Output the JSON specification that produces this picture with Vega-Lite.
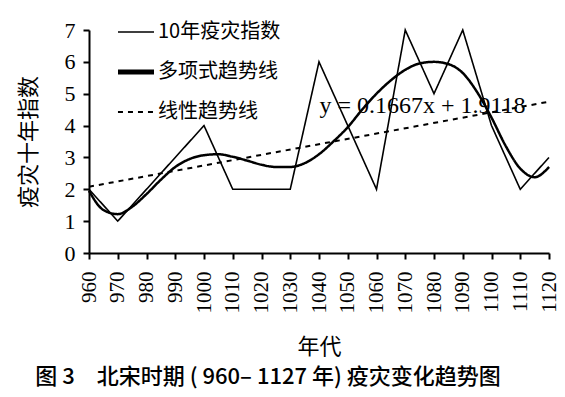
{
  "$schema": "https://vega.github.io/schema/vega-lite/v6.json",
  "width": 460,
  "height": 223,
  "autosize": {"type": "none"},
  "padding": {"left": 89, "top": 30, "right": 16, "bottom": 144},
  "background": "white",
  "title": {
    "text": "图 3　北宋时期  ( 960–  1127 年)  疫灾变化趋势图",
    "orient": "bottom",
    "anchor": "middle",
    "font": "Noto Sans CJK SC",
    "fontSize": 22,
    "fontWeight": 500,
    "color": "black",
    "offset": 10,
    "dx": -51
  },
  "config": {
    "view": {"stroke": null},
    "axis": {
      "domainColor": "black",
      "domainWidth": 2,
      "tickColor": "black",
      "tickWidth": 2,
      "tickSize": 6,
      "grid": false,
      "labelColor": "black",
      "titleColor": "black",
      "labelFont": "Liberation Serif",
      "labelFontSize": 21,
      "titleFont": "Noto Sans CJK SC",
      "titleFontSize": 21,
      "titleFontWeight": "normal"
    }
  },
  "datasets": {
    "pts": [
      {"year": 960, "value": 2, "series": "10年疫灾指数"},
      {"year": 970, "value": 1, "series": "10年疫灾指数"},
      {"year": 980, "value": 2, "series": "10年疫灾指数"},
      {"year": 990, "value": 3, "series": "10年疫灾指数"},
      {"year": 1000, "value": 4, "series": "10年疫灾指数"},
      {"year": 1010, "value": 2, "series": "10年疫灾指数"},
      {"year": 1020, "value": 2, "series": "10年疫灾指数"},
      {"year": 1030, "value": 2, "series": "10年疫灾指数"},
      {"year": 1040, "value": 6, "series": "10年疫灾指数"},
      {"year": 1050, "value": 4, "series": "10年疫灾指数"},
      {"year": 1060, "value": 2, "series": "10年疫灾指数"},
      {"year": 1070, "value": 7, "series": "10年疫灾指数"},
      {"year": 1080, "value": 5, "series": "10年疫灾指数"},
      {"year": 1090, "value": 7, "series": "10年疫灾指数"},
      {"year": 1100, "value": 4, "series": "10年疫灾指数"},
      {"year": 1110, "value": 2, "series": "10年疫灾指数"},
      {"year": 1120, "value": 3, "series": "10年疫灾指数"},
      {"year": 960, "value": 1.95, "series": "多项式趋势线"},
      {"year": 965, "value": 1.35, "series": "多项式趋势线"},
      {"year": 970, "value": 1.22, "series": "多项式趋势线"},
      {"year": 975, "value": 1.45, "series": "多项式趋势线"},
      {"year": 980, "value": 1.85, "series": "多项式趋势线"},
      {"year": 985, "value": 2.3, "series": "多项式趋势线"},
      {"year": 990, "value": 2.7, "series": "多项式趋势线"},
      {"year": 995, "value": 2.95, "series": "多项式趋势线"},
      {"year": 1000, "value": 3.07, "series": "多项式趋势线"},
      {"year": 1005, "value": 3.1, "series": "多项式趋势线"},
      {"year": 1010, "value": 3.02, "series": "多项式趋势线"},
      {"year": 1015, "value": 2.9, "series": "多项式趋势线"},
      {"year": 1020, "value": 2.77, "series": "多项式趋势线"},
      {"year": 1025, "value": 2.7, "series": "多项式趋势线"},
      {"year": 1030, "value": 2.7, "series": "多项式趋势线"},
      {"year": 1035, "value": 2.82, "series": "多项式趋势线"},
      {"year": 1040, "value": 3.1, "series": "多项式趋势线"},
      {"year": 1045, "value": 3.5, "series": "多项式趋势线"},
      {"year": 1050, "value": 3.95, "series": "多项式趋势线"},
      {"year": 1055, "value": 4.5, "series": "多项式趋势线"},
      {"year": 1060, "value": 5.0, "series": "多项式趋势线"},
      {"year": 1065, "value": 5.42, "series": "多项式趋势线"},
      {"year": 1070, "value": 5.75, "series": "多项式趋势线"},
      {"year": 1075, "value": 5.95, "series": "多项式趋势线"},
      {"year": 1080, "value": 6.0, "series": "多项式趋势线"},
      {"year": 1085, "value": 5.93, "series": "多项式趋势线"},
      {"year": 1090, "value": 5.65, "series": "多项式趋势线"},
      {"year": 1095, "value": 5.05, "series": "多项式趋势线"},
      {"year": 1100, "value": 4.25, "series": "多项式趋势线"},
      {"year": 1105, "value": 3.35, "series": "多项式趋势线"},
      {"year": 1110, "value": 2.65, "series": "多项式趋势线"},
      {"year": 1115, "value": 2.38, "series": "多项式趋势线"},
      {"year": 1120, "value": 2.7, "series": "多项式趋势线"},
      {"year": 960, "value": 2.08, "series": "线性趋势线"},
      {"year": 1120, "value": 4.75, "series": "线性趋势线"}
    ],
    "eq": [
      {"year": 1076, "value": 4.62, "label": "y = 0.1667x + 1.9118"}
    ]
  },
  "encoding": {
    "x": {
      "field": "year",
      "type": "quantitative",
      "scale": {"domain": [960, 1120], "nice": false, "zero": false},
      "axis": {
        "title": "年代",
        "values": [960, 970, 980, 990, 1000, 1010, 1020, 1030, 1040, 1050, 1060, 1070, 1080, 1090, 1100, 1110, 1120],
        "format": "d",
        "labelAngle": 270,
        "labelFont": "Liberation Serif",
        "labelFontSize": 21,
        "labelPadding": 12,
        "titlePadding": 23,
        "titleFontSize": 22,
        "labelOverlap": false,
        "labelFlush": false
      }
    },
    "y": {
      "field": "value",
      "type": "quantitative",
      "scale": {"domain": [0, 7], "nice": false},
      "axis": {
        "title": "疫灾十年指数",
        "values": [0, 1, 2, 3, 4, 5, 6, 7],
        "labelFont": "Liberation Serif",
        "labelFontSize": 22,
        "labelPadding": 8,
        "titlePadding": 24,
        "titleFontSize": 22,
        "labelFlush": false
      }
    }
  },
  "layer": [
    {
      "data": {"name": "pts"},
      "transform": [{"filter": "datum.series !== '多项式趋势线'"}],
      "mark": {"type": "line", "color": "black", "interpolate": "linear"},
      "encoding": {
        "detail": {"field": "series"},
        "strokeDash": {
          "field": "series",
          "type": "nominal",
          "scale": {"domain": ["10年疫灾指数", "多项式趋势线", "线性趋势线"], "range": [[1, 0], [1, 0], [5, 5]]},
          "legend": {
            "title": null,
            "orient": "none",
            "legendX": 37,
            "legendY": -8,
            "symbolType": "stroke",
            "symbolSize": 1300,
            "symbolStrokeColor": "black",
            "labelFont": "Noto Sans CJK SC",
            "labelFontSize": 20,
            "labelColor": "black",
            "labelOffset": 12,
            "rowPadding": 20,
            "encode": {
              "symbols": {
                "update": {
                  "strokeWidth": {"signal": "datum.value === '多项式趋势线' ? 5 : datum.value === '线性趋势线' ? 2 : 1.6"}
                }
              }
            }
          }
        },
        "strokeWidth": {
          "field": "series",
          "type": "nominal",
          "scale": {"type": "ordinal", "domain": ["10年疫灾指数", "多项式趋势线", "线性趋势线"], "range": [1.6, 4, 2]},
          "legend": null
        }
      }
    },
    {
      "data": {"name": "pts"},
      "transform": [{"filter": "datum.series === '多项式趋势线'"}],
      "mark": {"type": "line", "color": "black", "interpolate": "monotone"},
      "encoding": {
        "strokeDash": {"field": "series", "type": "nominal"},
        "strokeWidth": {"field": "series", "type": "nominal"}
      }
    },
    {
      "data": {"name": "eq"},
      "mark": {"type": "text", "font": "Liberation Serif", "fontSize": 24, "color": "black", "align": "center", "baseline": "middle"},
      "encoding": {
        "text": {"field": "label"}
      }
    }
  ]
}
